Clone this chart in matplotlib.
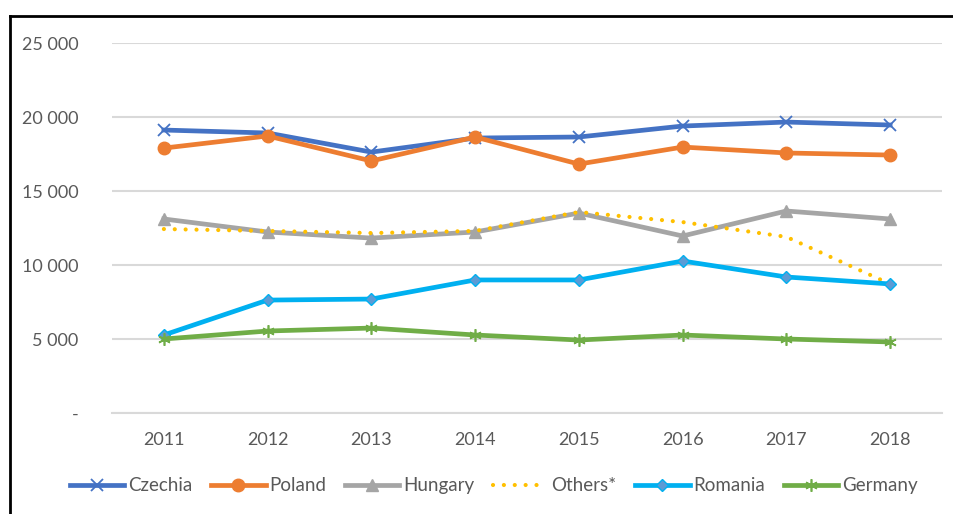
import matplotlib.pyplot as plt
from matplotlib.lines import Line2D
from matplotlib.ticker import FuncFormatter

plt.rcParams['font.family'] = ['Lato', 'DejaVu Sans']

years = ['2011', '2012', '2013', '2014', '2015', '2016', '2017', '2018']
czechia = [19120, 18920, 17630, 18580, 18650, 19390, 19660, 19460]
poland = [17900, 18720, 17030, 18650, 16820, 17970, 17570, 17430]
hungary = [13110, 12230, 11820, 12230, 13510, 11960, 13650, 13110]
others = [12430, 12300, 12160, 12300, 13580, 12900, 11900, 8720]
romania = [5270, 7630, 7700, 8990, 8990, 10270, 9190, 8720]
germany = [5000, 5540, 5740, 5270, 4930, 5270, 5000, 4800]

fig = plt.figure(figsize=(9.54, 5.14), dpi=100)
ax = fig.add_axes([0.1174, 0.1965, 0.87, 0.7198])

x = range(len(years))
lw = 3.4
ax.plot(x, czechia, color='#4472C4', lw=lw, marker='x', ms=9, mew=1.3, label='Czechia', zorder=3)
ax.plot(x, poland, color='#ED7D31', lw=lw, marker='o', ms=9, label='Poland', zorder=3)
ax.plot(x, hungary, color='#A5A5A5', lw=lw, marker='^', ms=9, label='Hungary', zorder=3)
ax.plot(x, others, color='#FFC000', lw=3.0, ls=(0, (0.01, 2.6)), dash_capstyle='round', label='Others*', zorder=3)
ax.plot(x, romania, color='#00B0F0', lw=lw, marker='D', ms=6.5, mfc='#5B9BD5', mec='#00B0F0', mew=1, label='Romania', zorder=3)
ax.plot(x, germany, color='#70AD47', lw=lw, marker=(6, 2, 0), ms=9, mew=1.2, label='Germany', zorder=3)

ax.set_xlim(-0.5, len(years) - 0.5)
ax.set_ylim(0, 25000)
ax.set_xticks(list(x))
ax.set_xticklabels(years)
ax.set_yticks([0, 5000, 10000, 15000, 20000, 25000])
ax.yaxis.set_major_formatter(FuncFormatter(lambda v, p: '-' if v == 0 else f'{int(v):,}'.replace(',', ' ')))
ax.grid(axis='y', color='#D9D9D9', lw=1.5)
ax.set_axisbelow(True)
for s in ['top', 'right', 'left']:
    ax.spines[s].set_visible(False)
ax.spines['bottom'].set_color('#D9D9D9')
ax.spines['bottom'].set_linewidth(1.5)
ax.tick_params(length=0, labelsize=13, labelcolor='#595959')
ax.tick_params(axis='x', pad=14)
ax.tick_params(axis='y', pad=24)

ax.legend(loc='center', bbox_to_anchor=(0.46, -0.197), ncol=6, frameon=False,
          fontsize=13.5, labelcolor='#595959', handlelength=2.9, handletextpad=0.2,
          columnspacing=1.0)

fig.add_artist(Line2D([10 / 954, 10 / 954], [0, 1 - 16 / 514], color='black', lw=2))
fig.add_artist(Line2D([10 / 954, 1], [1 - 16 / 514, 1 - 16 / 514], color='black', lw=2))

fig.savefig('out.png', dpi=100)
